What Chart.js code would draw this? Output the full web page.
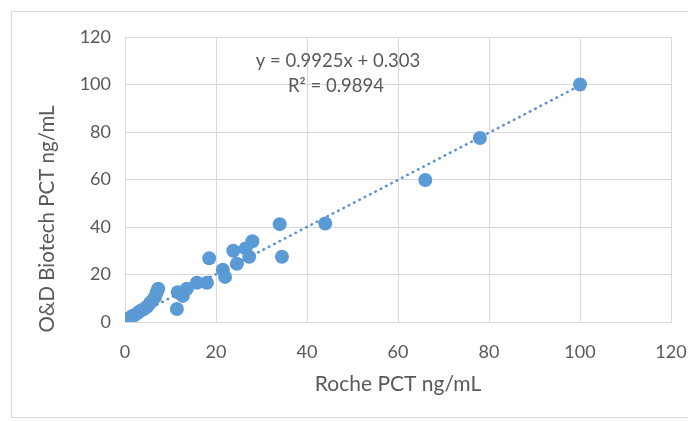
<!DOCTYPE html>
<html>
<head>
<meta charset="utf-8">
<script src="https://cdn.jsdelivr.net/npm/chart.js@4.4.1/dist/chart.umd.min.js"></script>
<style>
  html, body { margin: 0; padding: 0; background: #ffffff; overflow: hidden; }
  #wrap { position: relative; width: 688px; height: 422px; }
</style>
</head>
<body>
<div id="wrap"><canvas id="c" width="688" height="422"></canvas></div>
<script>
// ---- Data ----
const rocheX = [0.2, 0.6, 1.1, 1.6, 2.2, 2.9, 3.5, 4.2, 4.9, 5.5, 6.0, 6.6, 7.0, 7.3,
                11.4, 11.6, 12.7, 13.6, 15.8, 18.0, 18.5, 21.5, 22.0, 23.8, 24.6, 26.5,
                27.3, 28.0, 34.0, 34.5, 44.0, 66.0, 78.0, 100.0];
const odY    = [0.5, 1.2, 1.8, 2.5, 3.0, 4.0, 4.8, 5.5, 6.5, 8.0, 9.0, 10.5, 12.5, 14.0,
                5.5, 12.5, 11.0, 14.0, 16.5, 16.5, 26.8, 22.0, 19.0, 30.0, 24.5, 31.0,
                27.5, 34.0, 41.2, 27.5, 41.5, 59.8, 77.5, 100.0];
const trendX = [0, 100];
const trendY = [0.3, 99.55];
const axisTicks = [0, 20, 40, 60, 80, 100, 120];
const equationLines = ['y = 0.9925x + 0.303', 'R\u00B2 = 0.9894'];
const xTitle = 'Roche PCT ng/mL';
const yTitle = 'O&D Biotech PCT ng/mL';

const scatterPts = rocheX.map((x, i) => ({ x: x, y: odY[i] }));
const trendPts = trendX.map((x, i) => ({ x: x, y: trendY[i] }));

const TXT = '#595959';
const GRID = '#d9d9d9';
const FONT = 'Lato, "Open Sans", "Liberation Sans", sans-serif';

const decor = {
  id: 'decor',
  beforeDraw(chart) {
    const ctx = chart.ctx;
    ctx.save();
    ctx.fillStyle = '#ffffff';
    ctx.fillRect(0, 0, chart.width, chart.height);
    ctx.strokeStyle = GRID;
    ctx.lineWidth = 1;
    ctx.strokeRect(11.5, 11.5, 700, 406);
    ctx.restore();
  },
  afterDraw(chart) {
    const ctx = chart.ctx;
    ctx.save();
    ctx.fillStyle = TXT;
    ctx.font = '20.5px ' + FONT;
    ctx.textAlign = 'center';
    ctx.textBaseline = 'middle';
    ctx.translate(47, 219);
    ctx.rotate(-Math.PI / 2);
    ctx.fillText(yTitle, 0, 0);
    ctx.restore();
    ctx.save();
    ctx.fillStyle = TXT;
    ctx.font = '18.5px ' + FONT;
    ctx.textAlign = 'center';
    ctx.textBaseline = 'middle';
    ctx.fillText(equationLines[0], 338, 61);
    ctx.fillText(equationLines[1], 336, 86);
    ctx.restore();
  }
};

new Chart(document.getElementById('c'), {
  type: 'scatter',
  data: {
    datasets: [
      {
        type: 'line',
        label: 'Trend',
        data: trendPts,
        borderColor: '#5b93cf',
        borderWidth: 2.6,
        borderDash: [0.5, 5.5],
        borderCapStyle: 'round',
        pointRadius: 0,
        fill: false,
        order: 0
      },
      {
        label: 'PCT',
        data: scatterPts,
        backgroundColor: '#5B9BD5',
        borderColor: '#5B9BD5',
        borderWidth: 0,
        pointRadius: 7,
        pointHoverRadius: 7,
        order: 1
      }
    ]
  },
  plugins: [decor],
  options: {
    responsive: false,
    animation: false,
    devicePixelRatio: 1,
    layout: { padding: { left: 0, right: 17, top: 37, bottom: 0 } },
    plugins: { legend: { display: false }, tooltip: { enabled: false } },
    scales: {
      x: {
        type: 'linear',
        min: 0, max: 120,
        afterBuildTicks(scale) { scale.ticks = axisTicks.map(v => ({ value: v })); },
        afterFit(scale) { scale.height = 100; scale.paddingLeft = 0; scale.paddingRight = 0; },
        ticks: { color: TXT, font: { family: FONT, size: 18 }, padding: 19, maxRotation: 0 },
        grid: { color: GRID, lineWidth: 1, drawTicks: false },
        border: { color: GRID },
        title: { display: true, text: xTitle, color: TXT, font: { family: FONT, size: 21 }, padding: { top: 0, bottom: 25 } }
      },
      y: {
        type: 'linear',
        min: 0, max: 120,
        afterBuildTicks(scale) { scale.ticks = axisTicks.map(v => ({ value: v })); },
        afterFit(scale) { scale.width = 125; scale.paddingTop = 0; scale.paddingBottom = 0; },
        ticks: { color: TXT, font: { family: FONT, size: 18 }, padding: 14 },
        grid: { color: GRID, lineWidth: 1, drawTicks: false },
        border: { color: GRID },
        title: { display: false }
      }
    }
  }
});
</script>
</body>
</html>
